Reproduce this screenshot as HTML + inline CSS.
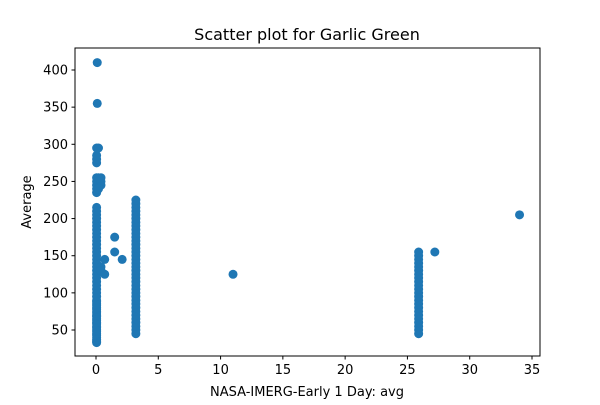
<!DOCTYPE html>
<html><head><meta charset="utf-8"><style>
body{margin:0;background:#fff;font-family:"Liberation Sans","DejaVu Sans",sans-serif}
svg text{font-family:"DejaVu Sans","Liberation Sans",sans-serif;fill:#000}
</style></head><body>
<svg id="chart" width="600" height="400" xmlns="http://www.w3.org/2000/svg">
<rect width="600" height="400" fill="#fff"/>
<text x="307" y="40" font-size="16" text-anchor="middle">Scatter plot for Garlic Green</text>
<g id="marks"></g>
<rect x="75" y="48" width="465" height="308" fill="none" stroke="#000" stroke-width="1"/>
<g id="axes"></g>
<text x="307" y="396" font-size="13" text-anchor="middle">NASA-IMERG-Early 1 Day: avg</text>
<text x="31" y="202" font-size="13" text-anchor="middle" transform="rotate(-90 31 202)">Average</text>
</svg>
<script>
const xs = [0.05,0.05,0.05,0.05,0.05,0.05,0.05,0.05,0.05,0.05,0.05,0.05,0.05,0.05,0.05,0.05,0.05,0.05,0.05,0.05,0.05,0.05,0.05,0.05,0.05,0.05,0.05,0.05,0.05,0.05,0.05,0.05,0.05,0.05,0.05,0.05,0.05,0.05,0.05,0.05,0.05,0.05,0.05,0.05,0.05,0.05,0.05,0.05,0.05,0.05,0.05,0.05,0.05,0.05,0.05,0.05,0.05,0.05,0.1,0.1,
0.4,0.4,0.4,0.2,0.2,0.2,0.7,0.7,0.4,0.4,
3.2,3.2,3.2,3.2,3.2,3.2,3.2,3.2,3.2,3.2,3.2,3.2,3.2,3.2,3.2,3.2,3.2,3.2,3.2,3.2,3.2,3.2,3.2,3.2,3.2,3.2,3.2,3.2,3.2,3.2,3.2,3.2,3.2,3.2,3.2,3.2,3.2,
25.9,25.9,25.9,25.9,25.9,25.9,25.9,25.9,25.9,25.9,25.9,25.9,25.9,25.9,25.9,25.9,25.9,25.9,25.9,25.9,25.9,25.9,25.9,
1.5,1.5,2.1,11,27.2,34];
const ys = [33,35,37,40,43,45,48,50,53,55,58,60,63,65,68,70,73,75,78,80,83,85,88,90,95,100,105,110,115,120,125,130,135,140,145,150,155,160,165,170,175,180,185,190,195,200,205,210,215,235,240,245,250,255,275,280,285,295,355,410,
245,255,250,295,255,240,145,125,135,130,
45,50,55,60,65,70,75,80,85,90,95,100,105,110,115,120,125,130,135,140,145,150,155,160,165,170,175,180,185,190,195,200,205,210,215,220,225,
45,50,55,60,65,70,75,80,85,90,95,100,105,110,115,120,125,130,135,140,145,150,155,
175,155,145,125,155,205];
const xTicks = [0,5,10,15,20,25,30,35];
const yTicks = [50,100,150,200,250,300,350,400];
const X = v => 96 + v*(436/35);
const Y = v => 330 - (v-50)*(260/350);
const ns = "http://www.w3.org/2000/svg";
const marks = document.getElementById('marks');
for (let i=0;i<xs.length;i++){
  const c = document.createElementNS(ns,'circle');
  c.setAttribute('cx',X(xs[i])); c.setAttribute('cy',Y(ys[i])); c.setAttribute('r',4.5);
  c.setAttribute('fill','#1f77b4');
  
  
  marks.appendChild(c);
}
const axes = document.getElementById('axes');
xTicks.forEach(t=>{
  const l=document.createElementNS(ns,'line');
  l.setAttribute('x1',X(t));l.setAttribute('x2',X(t));l.setAttribute('y1',356);l.setAttribute('y2',359.5);l.setAttribute('stroke','#000');
  
  
  axes.appendChild(l);
  const tx=document.createElementNS(ns,'text');
  tx.setAttribute('x',X(t));tx.setAttribute('y',374);tx.setAttribute('font-size','13');tx.setAttribute('text-anchor','middle');
  tx.textContent=t;
  
  
  axes.appendChild(tx);
});
yTicks.forEach(t=>{
  const l=document.createElementNS(ns,'line');
  l.setAttribute('x1',71.5);l.setAttribute('x2',75);l.setAttribute('y1',Y(t));l.setAttribute('y2',Y(t));l.setAttribute('stroke','#000');
  
  
  axes.appendChild(l);
  const tx=document.createElementNS(ns,'text');
  tx.setAttribute('x',68);tx.setAttribute('y',Y(t)+4.5);tx.setAttribute('font-size','13');tx.setAttribute('text-anchor','end');
  tx.textContent=t;
  
  
  axes.appendChild(tx);
});
</script>
</body></html>
